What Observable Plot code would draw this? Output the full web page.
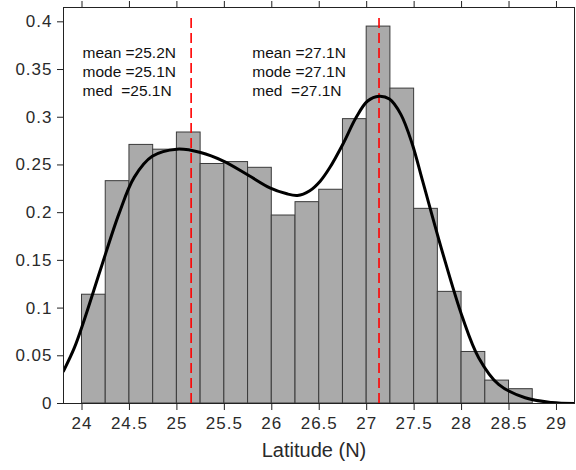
<!DOCTYPE html>
<html>
<head>
<meta charset="utf-8">
<script src="https://cdn.jsdelivr.net/npm/d3@7"></script>
<script src="https://cdn.jsdelivr.net/npm/@observablehq/plot@0.6"></script>
<style>
  html, body { margin: 0; padding: 0; background: #fff; }
  #chart svg { display: block; }
  #chart svg g[aria-label="x-axis tick label"] text,
  #chart svg g[aria-label="y-axis tick label"] text { letter-spacing: 1px; }
</style>
</head>
<body>
<div id="chart"></div>
<script>
// Histogram bins (left edge, width 0.25) and density values
const binStarts = [23.75, 24, 24.25, 24.5, 24.75, 25, 25.25, 25.5, 25.75, 26, 26.25, 26.5, 26.75, 27, 27.25, 27.5, 27.75, 28, 28.25, 28.5];
const binValues = [0, 0.114, 0.233, 0.271, 0.266, 0.284, 0.251, 0.253, 0.247, 0.197, 0.211, 0.224, 0.298, 0.395, 0.330, 0.204, 0.117, 0.054, 0.024, 0.015];
const binWidth = 0.25;

// Kernel density curve
const curveX = [23.805, 23.92, 24.02, 24.20, 24.39, 24.55, 24.74, 25.0, 25.25, 25.49, 25.74, 25.98, 26.15, 26.27, 26.4, 26.51, 26.61, 26.75, 26.89, 27.01, 27.13, 27.24, 27.36, 27.48, 27.59, 27.80, 28.01, 28.18, 28.39, 28.67, 28.95, 29.19];
const curveY = [0.034, 0.0585, 0.0865, 0.142, 0.199, 0.237, 0.259, 0.2665, 0.263, 0.254, 0.240, 0.226, 0.220, 0.218, 0.223, 0.233, 0.247, 0.272, 0.300, 0.317, 0.322, 0.319, 0.303, 0.272, 0.233, 0.158, 0.090, 0.048, 0.020, 0.006, 0.001, 0.0];

// Mode lines
const modeLines = [25.15, 27.13];

// Annotations
const annLeft = ["mean =25.2N", "mode =25.1N", "med\u00a0 =25.1N"];
const annRight = ["mean =27.1N", "mode =27.1N", "med\u00a0 =27.1N"];

const xTicks = [24, 24.5, 25, 25.5, 26, 26.5, 27, 27.5, 28, 28.5, 29];
const yTicks = [0, 0.05, 0.1, 0.15, 0.2, 0.25, 0.3, 0.35, 0.4];

const bins = binStarts.map((s, i) => ({x1: s, x2: s + binWidth, y: binValues[i]}));
const curve = curveX.map((x, i) => ({x, y: curveY[i]}));
const fmt = d3.format("~g");
const lineStep = 0.0199;
const annL = annLeft.map((t, i) => ({t, i}));
const annR = annRight.map((t, i) => ({t, i}));

const chart = Plot.plot({
  width: 576,
  height: 470,
  marginLeft: 63,
  marginRight: 2,
  marginTop: 7,
  marginBottom: 67,
  style: {fontFamily: "'Liberation Sans', Arial, Helvetica, sans-serif", fontSize: "16px", color: "#2a2a2a", background: "#fff"},
  x: {domain: [23.805, 29.19]},
  y: {domain: [0, 0.415]},
  marks: [
    Plot.rect(bins, {x1: "x1", x2: "x2", y1: 0, y2: "y", fill: "#aaaaaa", stroke: "#3a3a3a", strokeWidth: 1, clip: true, inset: 0}),
    Plot.ruleX(modeLines, {y1: 0, y2: 0.408, stroke: "#ff0000", strokeWidth: 1.6, strokeDasharray: "10,5"}),
    Plot.line(curve, {x: "x", y: "y", stroke: "#000", strokeWidth: 3, curve: "catmull-rom", clip: true}),
    Plot.text(annL, {x: 24.005, y: d => 0.3675 - d.i * lineStep, text: "t", textAnchor: "start", fontSize: 15.5, fill: "#111"}),
    Plot.text(annR, {x: 25.795, y: d => 0.3675 - d.i * lineStep, text: "t", textAnchor: "start", fontSize: 15.5, fill: "#111"}),
    Plot.frame({stroke: "#222", strokeWidth: 1}),
    Plot.axisX(xTicks, {anchor: "bottom", tickSize: 7, tickPadding: 6, tickFormat: fmt, fontSize: 17, label: null, stroke: "#222"}),
    Plot.axisX(xTicks, {anchor: "top", tickSize: 7, tickFormat: () => "", label: null, stroke: "#222"}),
    Plot.axisY(yTicks, {anchor: "left", tickSize: 6, tickPadding: 5, tickFormat: fmt, fontSize: 17, label: null, stroke: "#222"}),
    Plot.text(["Latitude (N)"], {frameAnchor: "bottom", dx: -5, dy: 53, text: d => d, fontSize: 20, fill: "#2a2a2a"})
  ]
});
document.getElementById("chart").appendChild(chart);
</script>
</body>
</html>
